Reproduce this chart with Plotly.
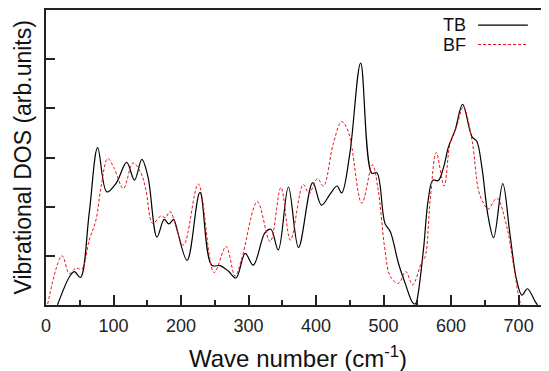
import plotly.graph_objects as go

# TB (tight-binding) curve
tb_x = [17, 35, 42, 51, 64, 76.5, 90, 104, 119.5, 131, 142, 151, 164.4, 175, 182, 189, 191,
        209, 228, 245.4, 258, 270, 281.5, 295, 307, 324, 333, 344, 359, 374,
        395, 408, 421, 431, 438, 450, 466, 482.5, 490, 502, 510, 522, 532, 543, 547,
        549, 559, 566, 573, 581, 589, 596, 606, 617, 631, 638, 645.5, 655, 663, 676.5,
        687, 697, 705, 713, 724.5, 728]
tb_y = [0.0, 0.58, 0.68, 0.56, 1.87, 3.2, 2.30, 2.48, 2.90, 2.54, 2.96, 2.61, 1.38, 1.74, 1.65, 1.74, 1.69,
        0.91, 2.29, 0.81, 0.80, 0.69, 0.55, 1.05, 0.81, 1.46, 1.54, 1.12, 2.40, 1.17,
        2.49, 2.03, 2.26, 2.42, 2.28, 3.08, 4.92, 2.68, 2.69, 1.66, 1.49, 0.85, 0.44, 0.05, 0.02,
        0.07, 1.12, 2.13, 2.54, 2.53, 2.81, 3.21, 3.56, 4.08, 3.42, 3.33, 2.81, 1.79, 1.37, 2.47,
        1.46, 0.51, 0.20, 0.33, 0.07, 0.0]

# BF curve
bf_x = [2.5, 23.7, 34.6, 44, 53, 64, 74, 81.5, 91.4, 101, 114.5, 129, 140.7, 148, 158, 170, 177, 183.7,
        203.5, 225.6, 249, 266.7, 280, 290, 313, 332, 348, 362,
        381, 389.6, 402, 411, 425.6, 438, 448, 467.7, 483.5, 492, 502, 510, 522, 533, 543,
        556.6, 561.5, 569, 578, 589.6, 598.5, 608, 618, 631, 640.5, 648, 655, 667.7,
        682.5, 692, 702, 705]
bf_y = [0.02, 1.0, 0.64, 0.75, 0.73, 1.32, 1.73, 2.40, 2.98, 2.78, 2.37, 2.89, 2.68, 2.34, 1.66, 1.81, 1.78, 1.90,
        1.22, 2.46, 0.66, 1.19, 0.59, 0.95, 2.10, 1.29, 2.39, 1.32,
        2.45, 2.27, 2.57, 2.42, 3.29, 3.73, 3.52, 2.07, 2.85, 2.34, 1.12, 0.58, 0.44, 0.68, 0.41,
        0.88, 0.98, 2.13, 3.10, 2.42, 3.29, 3.62, 4.03, 3.35, 2.34, 2.07, 1.95, 2.17,
        1.59, 0.85, 0.07, 0.0]

x_ticks = [0, 100, 200, 300, 400, 500, 600, 700]

fig = go.Figure()
fig.add_trace(go.Scatter(x=tb_x, y=tb_y, mode="lines", name="TB",
                         line=dict(color="black", width=1.2, shape="spline", smoothing=1.0)))
fig.add_trace(go.Scatter(x=bf_x, y=bf_y, mode="lines", name="BF",
                         line=dict(color="#e8141c", width=1.0, shape="spline", smoothing=1.0,
                                   dash="3px,2px")))

font_family = "Liberation Sans, Arial, sans-serif"
# page body has an 8px margin, so the figure is sized/offset to compensate
fig.update_layout(
    width=541, height=363,
    margin=dict(l=38, r=0, t=2, b=66),
    paper_bgcolor="white", plot_bgcolor="white",
    showlegend=False,
    font=dict(family=font_family, color="#222222"),
    xaxis=dict(range=[0, 745], showgrid=False, zeroline=False, automargin=False,
               showline=True, linecolor="#222222", linewidth=2, mirror=True,
               ticks="inside", ticklen=10, tickwidth=2, tickcolor="#222222",
               tickvals=x_ticks, ticktext=[str(v) for v in x_ticks],
               tickfont=dict(size=18, color="#222222"), ticklabelstandoff=3,
               minor=dict(dtick=50, tick0=0, ticks="inside", ticklen=5, tickwidth=2, tickcolor="#222222")),
    yaxis=dict(range=[0, 6], showgrid=False, zeroline=False, automargin=False,
               showline=True, linecolor="#222222", linewidth=2,
               ticks="inside", ticklen=9, tickwidth=2, tickcolor="#222222",
               dtick=1, showticklabels=False),
)

# axis titles
fig.add_annotation(xref="paper", yref="paper", x=0.5, y=-0.176, text="Wave number (cm<sup>-1</sup>)",
                   showarrow=False, xanchor="center", yanchor="middle",
                   font=dict(size=24, color="#111111"))
fig.add_annotation(xref="paper", yref="paper", x=-0.0477, y=0.5, text="Vibrational DOS (arb.units)",
                   showarrow=False, xanchor="center", yanchor="middle", textangle=-90,
                   font=dict(size=23, color="#111111"))

# legend drawn as text + sample lines (text left, sample right)
fig.add_annotation(xref="paper", yref="paper", x=0.838, y=0.949, text="TB", showarrow=False,
                   xanchor="right", yanchor="middle", font=dict(size=18, color="#111111"))
fig.add_annotation(xref="paper", yref="paper", x=0.838, y=0.88, text="BF", showarrow=False,
                   xanchor="right", yanchor="middle", font=dict(size=18, color="#111111"))
fig.add_shape(type="line", xref="paper", yref="paper", x0=0.859, x1=0.958, y0=0.949, y1=0.949,
              line=dict(color="black", width=1.2))
fig.add_shape(type="line", xref="paper", yref="paper", x0=0.859, x1=0.958, y0=0.883, y1=0.883,
              line=dict(color="#e8141c", width=1.0, dash="3px,2px"))

fig.write_html("out.html")
